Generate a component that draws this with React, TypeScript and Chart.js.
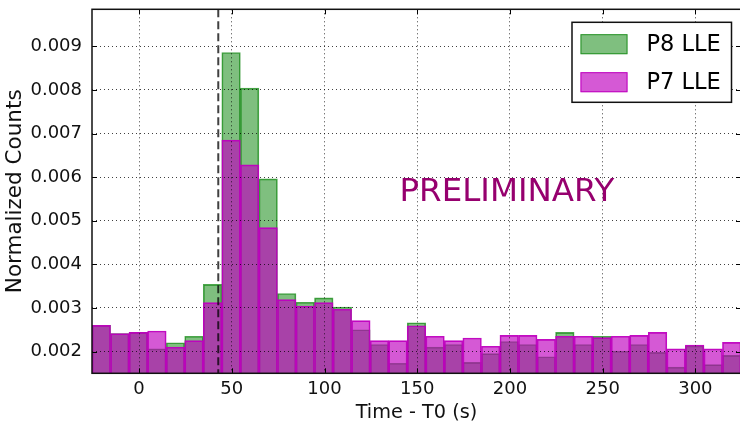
import React, { useEffect, useRef } from "react";
import { Chart, registerables } from "chart.js";

Chart.register(...registerables);
Chart.defaults.font.family = '"DejaVu Sans", sans-serif';

// ---- data ----
const binCenters = [
  -20.4, -10.4, -0.4, 9.6, 19.6, 29.6, 39.6, 49.6, 59.6, 69.6, 79.6, 89.6,
  99.6, 109.6, 119.6, 129.6, 139.6, 149.6, 159.6, 169.6, 179.6, 189.6, 199.6,
  209.6, 219.6, 229.6, 239.6, 249.6, 259.6, 269.6, 279.6, 289.6, 299.6, 309.6,
  319.6,
];
const p8Lle = [
  0.0026, 0.00241, 0.00244, 0.00206, 0.0022, 0.00235, 0.00354, 0.00886,
  0.00804, 0.00596, 0.00333, 0.00313, 0.00323, 0.00302, 0.0025, 0.00216,
  0.00173, 0.00266, 0.0021, 0.00216, 0.00175, 0.00195, 0.00223, 0.00216,
  0.00188, 0.00244, 0.00216, 0.00235, 0.00201, 0.00216, 0.00198, 0.00164,
  0.00213, 0.0017, 0.00191,
];
const p7Lle = [
  0.0026, 0.00241, 0.00244, 0.00247, 0.0021, 0.00225, 0.00312, 0.00685,
  0.00628, 0.00484, 0.00319, 0.00304, 0.00312, 0.00297, 0.00271, 0.00225,
  0.00225, 0.00259, 0.00235, 0.00225, 0.00231, 0.00212, 0.00237, 0.00237,
  0.00228, 0.00235, 0.00235, 0.00232, 0.00235, 0.00237, 0.00244, 0.00206,
  0.00215, 0.00206, 0.00221,
];
const seriesNames = ["P8 LLE", "P7 LLE"];
const xTickValues = [0, 50, 100, 150, 200, 250, 300];
const yTickValues = [0.002, 0.003, 0.004, 0.005, 0.006, 0.007, 0.008, 0.009];
const xTitle = "Time - T0 (s)";
const yTitle = "Normalized Counts";
const watermark = "PRELIMINARY";
const watermarkAt = { x: 198.4, y: 0.00565 };
const t0Marker = 42.7;

const X_MIN = -25.4;
const X_MAX = 324.6;
const Y_MIN = 0.0015;
const Y_MAX = 0.00985;

// ---- styles ----
const GREEN_FILL = "rgba(0,128,0,0.5)";
const GREEN_EDGE = "rgba(0,128,0,0.7)";
const MAG_FILL = "rgba(191,0,191,0.65)";
const MAG_EDGE = "rgba(191,0,191,0.95)";
const TICK_LEN = 5;

const decorations = {
  id: "decorations",
  afterDraw(chart: any) {
    const { ctx, chartArea: a } = chart;
    const xs = chart.scales.x;
    const ys = chart.scales.y;
    ctx.save();

    // vertical dashed marker
    const dx = xs.getPixelForValue(t0Marker);
    ctx.beginPath();
    ctx.setLineDash([8, 4]);
    ctx.strokeStyle = "rgba(0,0,0,0.75)";
    ctx.lineWidth = 2;
    ctx.moveTo(dx, a.top);
    ctx.lineTo(dx, a.bottom);
    ctx.stroke();
    ctx.setLineDash([]);

    // watermark text
    ctx.fillStyle = "#96006e";
    ctx.font = '32.5px "DejaVu Sans"';
    ctx.textAlign = "center";
    ctx.textBaseline = "middle";
    ctx.fillText(watermark, xs.getPixelForValue(watermarkAt.x), ys.getPixelForValue(watermarkAt.y));

    // inward tick marks on all four sides
    ctx.strokeStyle = "#000";
    ctx.lineWidth = 1;
    ctx.beginPath();
    for (const v of xTickValues) {
      const px = Math.round(xs.getPixelForValue(v)) + 0.5;
      ctx.moveTo(px, a.bottom);
      ctx.lineTo(px, a.bottom - TICK_LEN);
      ctx.moveTo(px, a.top);
      ctx.lineTo(px, a.top + TICK_LEN);
    }
    for (const v of yTickValues) {
      const py = Math.round(ys.getPixelForValue(v)) + 0.5;
      ctx.moveTo(a.left, py);
      ctx.lineTo(a.left + TICK_LEN, py);
      ctx.moveTo(a.right, py);
      ctx.lineTo(a.right - TICK_LEN, py);
    }
    ctx.stroke();

    // frame
    ctx.lineWidth = 1.5;
    ctx.strokeStyle = "#111";
    ctx.strokeRect(a.left, a.top, a.right - a.left, a.bottom - a.top);

    // legend
    const boxW = 159.5;
    const boxH = 80;
    const boxRight = a.right - 9.5;
    const boxLeft = boxRight - boxW;
    const boxTop = a.top + 13;
    ctx.fillStyle = "#fff";
    ctx.fillRect(boxLeft, boxTop, boxW, boxH);
    ctx.lineWidth = 1.5;
    ctx.strokeStyle = "#111";
    ctx.strokeRect(boxLeft, boxTop, boxW, boxH);
    const rows = [21.9, 59.9];
    chart.data.datasets.forEach((ds: any, i: number) => {
      const cy = boxTop + rows[i];
      ctx.fillStyle = ds.backgroundColor;
      ctx.fillRect(boxLeft + 8.5, cy - 10, 47, 20);
      ctx.strokeStyle = ds.borderColor;
      ctx.lineWidth = 1;
      ctx.strokeRect(boxLeft + 9, cy - 9.5, 46, 19);
      ctx.fillStyle = "#000";
      ctx.font = '22.5px "DejaVu Sans"';
      ctx.textAlign = "left";
      ctx.textBaseline = "middle";
      ctx.fillText(ds.label, boxLeft + 74.5, cy + 1);
    });

    ctx.restore();
  },
};

export default function App() {
  const ref = useRef<HTMLCanvasElement>(null);

  useEffect(() => {
    const canvas = ref.current;
    if (!canvas) return;
    const chart = new Chart(canvas, {
      type: "bar",
      data: {
        datasets: [
          {
            label: seriesNames[0],
            data: binCenters.map((x, i) => ({ x, y: p8Lle[i] })),
            backgroundColor: GREEN_FILL,
            borderColor: GREEN_EDGE,
            borderWidth: 1,
            borderSkipped: "start",
            grouped: false,
            barPercentage: 1,
            categoryPercentage: 1,
            order: 2,
          } as any,
          {
            label: seriesNames[1],
            data: binCenters.map((x, i) => ({ x, y: p7Lle[i] })),
            backgroundColor: MAG_FILL,
            borderColor: MAG_EDGE,
            borderWidth: 1,
            borderSkipped: "start",
            grouped: false,
            barPercentage: 1,
            categoryPercentage: 1,
            order: 1,
          } as any,
        ],
      },
      options: {
        responsive: false,
        animation: false,
        layout: { padding: { top: 9.3, right: 19, left: 0, bottom: 0 } },
        plugins: {
          legend: { display: false },
          tooltip: { enabled: false },
        },
        scales: {
          x: {
            type: "linear",
            min: X_MIN,
            max: X_MAX,
            offset: false,
            afterBuildTicks: (s: any) => {
              s.ticks = xTickValues.map((v) => ({ value: v }));
            },
            afterFit: (s: any) => {
              s.height = 51.7;
              s.paddingLeft = 0;
              s.paddingRight = 0;
            },
            ticks: {
              padding: 5,
              color: "#111",
              font: { size: 18 },
              maxRotation: 0,
              autoSkip: false,
              callback: (v: any) => String(v),
            },
            grid: {
              z: 1,
              offset: false,
              drawTicks: false,
              color: "rgba(0,0,0,0.75)",
              lineWidth: 1,
            },
            border: { display: false, dash: [1, 3] },
            title: {
              display: true,
              text: xTitle,
              color: "#111",
              font: { size: 19.3 },
              padding: { top: 0, bottom: 0 },
            },
          } as any,
          y: {
            type: "linear",
            min: Y_MIN,
            max: Y_MAX,
            afterBuildTicks: (s: any) => {
              s.ticks = yTickValues.map((v) => ({ value: v }));
            },
            afterFit: (s: any) => {
              s.width = 92;
              s.paddingTop = 0;
              s.paddingBottom = 0;
            },
            ticks: {
              padding: 10,
              color: "#111",
              font: { size: 18 },
              autoSkip: false,
              callback: (v: any) => Number(v).toFixed(3),
            },
            grid: {
              z: 1,
              drawTicks: false,
              color: "rgba(0,0,0,0.75)",
              lineWidth: 1,
            },
            border: { display: false, dash: [1, 3] },
            title: {
              display: true,
              text: yTitle,
              color: "#111",
              font: { size: 21.5 },
              padding: { top: 3, bottom: 0 },
            },
          } as any,
        },
      },
      plugins: [decorations],
    });
    return () => chart.destroy();
  }, []);

  return (
    <div
      style={{
        position: "absolute",
        left: 0,
        top: 0,
        width: 740,
        height: 425,
        overflow: "hidden",
        background: "#fff",
      }}
    >
      <canvas ref={ref} width={760} height={425} style={{ display: "block", width: 760, height: 425 }} />
    </div>
  );
}
